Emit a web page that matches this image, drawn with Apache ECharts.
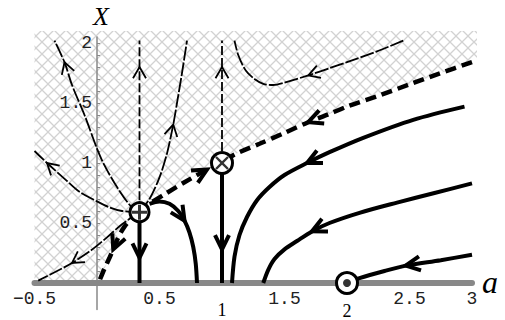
<!DOCTYPE html>
<html>
<head>
<meta charset="utf-8">
<script src="https://cdn.jsdelivr.net/npm/echarts@6/dist/echarts.min.js"></script>
<style>
html, body { margin: 0; padding: 0; background: #fff; }
#chart { width: 505px; height: 320px; }
</style>
</head>
<body>
<div id="chart"></div>
<script>
// tick labels
var xTickLabels = [-0.5, 0.5, 1.5, 2.5, 3];
var yTickLabels = [0.5, 1, 1.5, 2];
var yMinorTicks = [0.1, 0.2, 0.3, 0.4, 0.5, 0.6, 0.7, 0.8, 0.9, 1, 1.1, 1.2, 1.3, 1.4, 1.5, 1.6, 1.7, 1.8, 1.9, 2];

// equilibria
var eqPlus = [0.34, 0.59];
var eqCross = [1, 1];
var eqDot = [2, 0];

// thick solid trajectories
var plusDown = [[0.34, 0.59], [0.34, 0.21], [0.34, 0]];
var plusArc = [[0.42, 0.66], [0.5, 0.68], [0.58, 0.66], [0.65, 0.6], [0.7, 0.52], [0.74, 0.42], [0.77, 0.3], [0.79, 0.16], [0.8, 0]];
var crossDown = [[1, 1], [1, 0.28], [1, 0]];
var upperFlow = [[2.94, 1.47], [2.53, 1.36], [2.13, 1.21], [1.86, 1.09], [1.68, 1.0], [1.5, 0.9], [1.38, 0.8], [1.28, 0.69], [1.2, 0.55], [1.14, 0.4], [1.1, 0.22], [1.08, 0]];
var middleFlow = [[3, 0.83], [2.7, 0.75], [2.4, 0.67], [2.1, 0.585], [1.86, 0.5], [1.72, 0.43], [1.6, 0.35], [1.5, 0.28], [1.42, 0.2], [1.37, 0.11], [1.33, 0]];
var lowerFlow = [[3, 0.235], [2.75, 0.19], [2.47, 0.145], [2.3, 0.1], [2.1, 0.04], [2, 0]];

// separatrix, thick dashed
var sepLow = [[0.34, 0.59], [0.28, 0.54], [0.22, 0.47], [0.17, 0.38], [0.13, 0.28], [0.1, 0.21], [0.06, 0.12], [0.02, 0.02]];
var sepMid = [[0.34, 0.59], [0.42, 0.66], [0.55, 0.745], [0.7, 0.84], [0.88, 0.945]];
var sepHigh = [[3, 1.84], [2.75, 1.75], [2.5, 1.655], [2.25, 1.56], [2, 1.47], [1.85, 1.405], [1.69, 1.34], [1.5, 1.25], [1.3, 1.16], [1.1, 1.07], [1, 1]];

// thin trajectories inside the hatched part
var plusUp = [[0.34, 0.59], [0.34, 1.8], [0.34, 2.02]];
var crossUp = [[1, 1], [1, 1.8], [1, 2.02]];
var plusUpLeft = [[0.34, 0.59], [0.27, 0.64], [0.16, 0.8], [0.06, 0.98], [0, 1.12], [-0.1, 1.4], [-0.2, 1.65], [-0.26, 1.84], [-0.34, 2.02]];
var plusLeft = [[0.34, 0.59], [0.2, 0.6], [0.1, 0.63], [0, 0.68], [-0.14, 0.76], [-0.25, 0.86], [-0.4, 1.0], [-0.5, 1.1]];
var plusDownLeft = [[0.34, 0.59], [0.2, 0.49], [0.08, 0.38], [-0.05, 0.27], [-0.2, 0.167], [-0.3, 0.11], [-0.47, 0.02]];
var plusUpRight = [[0.34, 0.59], [0.42, 0.7], [0.5, 0.88], [0.56, 1.08], [0.61, 1.32], [0.64, 1.5], [0.68, 1.75], [0.72, 2.02]];
var topFlow = [[2.45, 2.02], [2.24, 1.93], [2.0, 1.84], [1.86, 1.79], [1.69, 1.73], [1.5, 1.67], [1.41, 1.65], [1.33, 1.66], [1.26, 1.7], [1.19, 1.77], [1.13, 1.9], [1.1, 2.02]];

// arrows: curve, vertex index, weight
var arrowSpecs = [
  [plusDown, 1, 1], [plusArc, 4, 1], [crossDown, 1, 1],
  [upperFlow, 4, 1], [middleFlow, 5, 1], [lowerFlow, 2, 1],
  [sepLow, 4, 1], [sepMid, 4, 1], [sepHigh, 6, 1],
  [plusUp, 1, 0], [crossUp, 1, 0], [plusUpLeft, 7, 0], [plusLeft, 6, 0],
  [plusDownLeft, 4, 0], [plusUpRight, 4, 0], [topFlow, 4, 0]
];

var arrowData = arrowSpecs.map(function (s) {
  var p = s[0][s[1]], q = s[0][s[1] - 1];
  return [p[0], p[1], q[0], q[1], s[2]];
});

// hatched region: everything above the separatrix
var hatchPoly = [[-0.5, 2.1], [3.04, 2.1], [3.04, 1.855]]
  .concat(sepHigh)
  .concat(sepMid.slice().reverse())
  .concat(sepLow.slice(1))
  .concat([[0, 0], [-0.5, 0]]);

function makeHatch() {
  var s = 12;
  var c = document.createElement('canvas');
  c.width = s; c.height = s;
  var g = c.getContext('2d');
  g.strokeStyle = '#d2d2d2';
  g.lineWidth = 1.3;
  g.beginPath();
  g.moveTo(-1, -1); g.lineTo(s + 1, s + 1);
  g.moveTo(s + 1, -1); g.lineTo(-1, s + 1);
  g.stroke();
  return c;
}

function curve(data, kind, smooth) {
  var st = {
    thick: { width: 4, type: 'solid' },
    dashed: { width: 4.5, type: [11, 6] },
    thin: { width: 1.8, type: [14, 2] },
    thinV: { width: 1.8, type: [9, 3] }
  }[kind];
  return {
    type: 'line', data: data, showSymbol: false, symbol: 'none',
    smooth: smooth === false ? false : 0.3, animation: false, silent: true,
    z: kind === 'thin' || kind === 'thinV' ? 3 : 4,
    lineStyle: { color: '#000', width: st.width, type: st.type, cap: 'butt' }
  };
}

function renderArrow(params, api) {
  var p = api.coord([api.value(0), api.value(1)]);
  var q = api.coord([api.value(2), api.value(3)]);
  var thick = api.value(4) === 1;
  var dx = p[0] - q[0], dy = p[1] - q[1];
  var n = Math.sqrt(dx * dx + dy * dy);
  dx /= n; dy /= n;
  var L = thick ? 16 : 13;
  var t = (thick ? 26 : 30) * Math.PI / 180;
  var c = Math.cos(t), s = Math.sin(t);
  var bx = -dx, by = -dy;
  var l1 = [p[0] + L * (bx * c - by * s), p[1] + L * (bx * s + by * c)];
  var l2 = [p[0] + L * (bx * c + by * s), p[1] + L * (-bx * s + by * c)];
  return {
    type: 'polyline',
    shape: { points: [l1, p, l2] },
    style: { stroke: '#000', lineWidth: thick ? 4 : 1.8, fill: null, lineJoin: 'miter' }
  };
}

var chart = echarts.init(document.getElementById('chart'), null, { renderer: 'svg' });
var hatchImg = makeHatch();
var mono = '"Liberation Mono", "DejaVu Sans Mono", monospace';

// grid: a from -0.5..3 over 437.5px, X from -0.22..2.05 over 272.4px
var gridLeft = 34.5, gridTop = 37, gridBottom = 10.6;
var xOffset = -(0.22 * 120);   // lift x axis to X = 0
var yOffset = -(0.5 * 125);    // shift y axis to a = 0

var ringStyle = { color: '#fff', borderColor: '#000', borderWidth: 3, opacity: 1 };

var option = {
  animation: false,
  backgroundColor: '#fff',
  grid: { left: gridLeft, right: 33, top: gridTop, bottom: gridBottom, containLabel: false, outerBoundsMode: 'none' },
  xAxis: {
    type: 'value', min: -0.5, max: 3, interval: 0.5, z: 2,
    position: 'bottom', offset: xOffset,
    axisLine: { onZero: false, lineStyle: { color: '#888', width: 6 } },
    axisTick: { show: false },
    splitLine: { show: false },
    axisLabel: {
      margin: 7, fontFamily: mono, fontSize: 18, color: '#222',
      formatter: function (v) { return xTickLabels.indexOf(v) >= 0 ? String(v).replace('-', '\u2212') : ''; }
    }
  },
  yAxis: {
    type: 'value', min: -0.22, max: 2.05, z: 2,
    position: 'left', offset: yOffset,
    axisLine: { onZero: false, lineStyle: { color: '#888', width: 1.5 } },
    axisTick: { show: true, inside: true, length: 3, customValues: yMinorTicks, lineStyle: { color: '#888' } },
    splitLine: { show: false },
    axisLabel: { margin: 5, fontFamily: mono, fontSize: 18, color: '#222', customValues: yTickLabels }
  },
  graphic: [
    { type: 'text', x: 101, y: 16, style: { text: 'X', font: 'italic 26px "Liberation Serif"', fill: '#000', textAlign: 'center', textVerticalAlign: 'middle' } },
    { type: 'text', x: 490, y: 282, style: { text: 'a', font: 'italic 32px "Liberation Serif"', fill: '#000', textAlign: 'center', textVerticalAlign: 'middle' } },
    { type: 'text', x: 222, y: 310, style: { text: '1', font: '18px "Liberation Serif"', fill: '#000', textAlign: 'center', textVerticalAlign: 'middle' } },
    { type: 'text', x: 347, y: 311, style: { text: '2', font: '18px "Liberation Serif"', fill: '#000', textAlign: 'center', textVerticalAlign: 'middle' } }
  ],
  series: [
    {
      type: 'custom', z: 1, silent: true, clip: false,
      data: [[0, 0]],
      renderItem: function (params, api) {
        return {
          type: 'polygon',
          shape: { points: hatchPoly.map(function (p) { return api.coord(p); }) },
          style: { fill: { image: hatchImg, repeat: 'repeat' }, stroke: null }
        };
      }
    },
    curve(plusUp, 'thinV', false), curve(crossUp, 'thinV', false),
    curve(plusUpLeft, 'thin'), curve(plusLeft, 'thin'), curve(plusDownLeft, 'thin'),
    curve(plusUpRight, 'thin'), curve(topFlow, 'thin'),
    curve(sepLow, 'dashed'), curve(sepMid, 'dashed'), curve(sepHigh, 'dashed'),
    curve(plusDown, 'thick', false), curve(crossDown, 'thick', false),
    curve(plusArc, 'thick'), curve(upperFlow, 'thick'), curve(middleFlow, 'thick'), curve(lowerFlow, 'thick'),
    {
      type: 'custom', z: 5, silent: true, clip: false,
      encode: { x: 0, y: 1 },
      data: arrowData,
      renderItem: renderArrow
    },
    {
      type: 'scatter', z: 10, silent: true, symbol: 'circle', symbolSize: 19,
      itemStyle: ringStyle,
      data: [eqPlus]
    },
    {
      type: 'scatter', z: 10, silent: true, symbol: 'circle', symbolSize: 21,
      itemStyle: ringStyle,
      data: [eqCross, eqDot]
    },
    {
      type: 'scatter', z: 11, silent: true, symbolSize: 15,
      symbol: 'path://M4,0h2v4h4v2h-4v4h-2v-4h-4v-2h4z',
      itemStyle: { color: '#000' },
      data: [eqPlus]
    },
    {
      type: 'scatter', z: 11, silent: true, symbolSize: 17, symbolRotate: 45,
      symbol: 'path://M4.3,0h1.4v4.3h4.3v1.4h-4.3v4.3h-1.4v-4.3h-4.3v-1.4h4.3z',
      itemStyle: { color: '#000' },
      data: [eqCross]
    },
    {
      type: 'scatter', z: 11, silent: true, symbol: 'circle', symbolSize: 8,
      itemStyle: { color: '#000' },
      data: [eqDot]
    }
  ]
};

chart.setOption(option);
</script>
</body>
</html>
